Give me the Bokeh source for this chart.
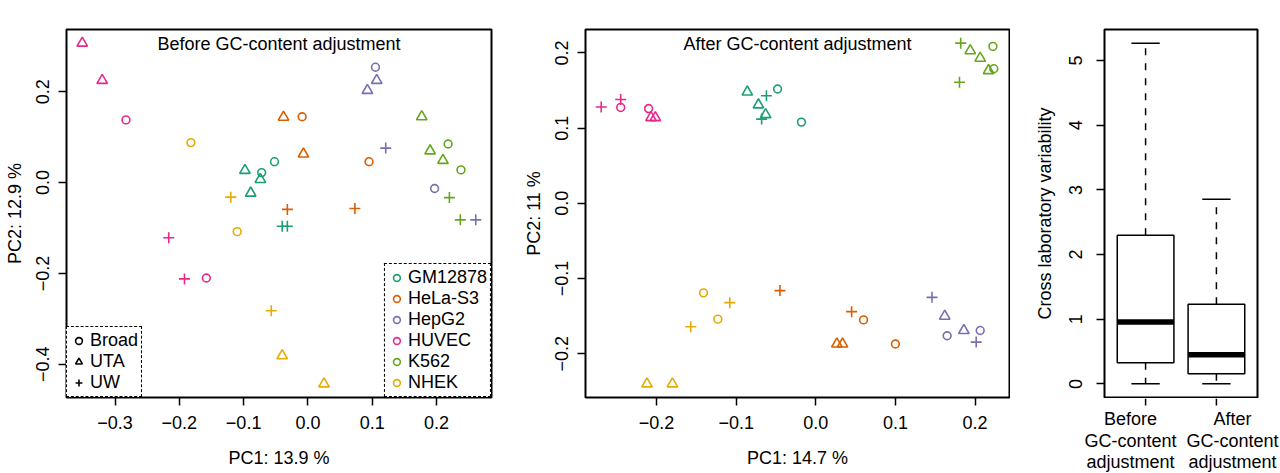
import numpy as np
from bokeh.plotting import figure
from bokeh.models import (Range1d, FixedTicker, Label, Legend, LegendItem,
                          ColumnDataSource, CustomJSTickFormatter)
from bokeh.layouts import row, column
from bokeh.embed import file_html
from bokeh.resources import INLINE

FONT = "Liberation Sans"
FS = "18px"

# Cell lines and sequencing centres
cell_lines = ["GM12878", "HeLa-S3", "HepG2", "HUVEC", "K562", "NHEK"]
cell_colors = ["#1B9E77", "#D95F02", "#7570B3", "#E7298A", "#66A61E", "#E6AB02"]
labs = ["Broad", "UTA", "UW"]
lab_markers = ["circle", "triangle", "cross"]
lab_sizes = [7.8, 10.5, 11]

# PCA before GC-content adjustment
before_cell = (["GM12878"] * 7 + ["HeLa-S3"] * 6 + ["HepG2"] * 6 + ["HUVEC"] * 6
               + ["K562"] * 7 + ["NHEK"] * 6)
before_lab = ["UTA", "Broad", "UTA", "Broad", "UTA", "UW", "UW",
              "UTA", "Broad", "UTA", "UW", "UW", "Broad",
              "Broad", "UTA", "UTA", "UW", "Broad", "UW",
              "UTA", "UTA", "Broad", "UW", "UW", "Broad",
              "UTA", "UTA", "Broad", "UTA", "Broad", "UW", "UW",
              "Broad", "UW", "Broad", "UW", "UTA", "UTA"]
before_pc1 = [-0.098, -0.072, -0.074, -0.052, -0.089, -0.040, -0.032,
              -0.038, -0.009, -0.007, -0.032, 0.073, 0.095,
              0.105, 0.107, 0.0925, 0.121, 0.197, 0.261,
              -0.351, -0.320, -0.283, -0.2165, -0.192, -0.158,
              0.177, 0.190, 0.218, 0.210, 0.238, 0.220, 0.237,
              -0.182, -0.120, -0.110, -0.057, -0.040, 0.025]
before_pc2 = [0.027, 0.022, 0.007, 0.046, -0.023, -0.096, -0.096,
              0.144, 0.145, 0.063, -0.059, -0.057, 0.046,
              0.254, 0.225, 0.203, 0.076, -0.013, -0.082,
              0.307, 0.225, 0.138, -0.1215, -0.212, -0.210,
              0.145, 0.070, 0.085, 0.049, 0.028, -0.033, -0.082,
              0.088, -0.032, -0.108, -0.282, -0.381, -0.443]

# PCA after GC-content adjustment
after_cell = list(before_cell)
after_lab = ["UTA", "UW", "Broad", "UTA", "UTA", "UW", "Broad",
             "UW", "UW", "Broad", "UTA", "UTA", "Broad",
             "UW", "UTA", "Broad", "UTA", "Broad", "UW",
             "UW", "UW", "Broad", "Broad", "UTA", "UTA",
             "UW", "UTA", "Broad", "UTA", "UTA", "Broad", "UW",
             "Broad", "UW", "Broad", "UW", "UTA", "UTA"]
after_pc1 = [-0.086, -0.062, -0.048, -0.072, -0.063, -0.068, -0.018,
             -0.045, 0.045, 0.060, 0.0265, 0.0336, 0.100,
             0.146, 0.162, 0.165, 0.186, 0.2065, 0.2015,
             -0.2695, -0.245, -0.245, -0.210, -0.207, -0.2015,
             0.182, 0.194, 0.2225, 0.2065, 0.217, 0.2236, 0.1805,
             -0.141, -0.108, -0.123, -0.157, -0.212, -0.180]
after_pc2 = [0.148, 0.143, 0.152, 0.131, 0.118, 0.112, 0.108,
             -0.116, -0.144, -0.155, -0.187, -0.187, -0.187,
             -0.125, -0.150, -0.176, -0.169, -0.169, -0.1845,
             0.128, 0.138, 0.1275, 0.126, 0.114, 0.114,
             0.213, 0.203, 0.2086, 0.193, 0.1765, 0.179, 0.161,
             -0.119, -0.132, -0.154, -0.164, -0.240, -0.240]

# Cross laboratory variability summary (boxplot statistics)
box_groups = [["Before", "GC-content", "adjustment"],
              ["After", "GC-content", "adjustment"]]
box_low = [0.0, 0.0]
box_q1 = [0.327, 0.155]
box_median = [0.955, 0.45]
box_q3 = [2.30, 1.23]
box_high = [5.27, 2.855]

FRAME_TOP = 29
FRAME_BOTTOM = 76
FRAME_H = 473 - FRAME_TOP - FRAME_BOTTOM

color_of = dict(zip(cell_lines, cell_colors))
marker_of = dict(zip(labs, lab_markers))
size_of = dict(zip(labs, lab_sizes))

minus_fmt = CustomJSTickFormatter(code="return tick.toFixed(1).replace('-', '\u2212')")


def padded(vals, frac=0.04):
    lo, hi = min(vals), max(vals)
    d = (hi - lo) * frac
    return Range1d(lo - d, hi + d)


def style(p):
    p.background_fill_color = "white"
    p.border_fill_color = "white"
    p.outline_line_color = "black"
    p.outline_line_width = 2
    p.grid.visible = False
    for ax in p.xaxis + p.yaxis:
        ax.axis_line_color = None
        ax.major_tick_out = 8
        ax.major_tick_in = 0
        ax.major_tick_line_width = 1.5
        ax.minor_tick_line_color = None
        ax.major_label_text_font = FONT
        ax.major_label_text_font_size = FS
        ax.major_label_text_color = "black"
        ax.axis_label_text_font = FONT
        ax.axis_label_text_font_size = FS
        ax.axis_label_text_font_style = "normal"
        ax.axis_label_text_color = "black"
    p.yaxis.major_label_orientation = "vertical"
    p.xaxis.major_label_standoff = 10
    p.xaxis.axis_label_standoff = 16
    p.yaxis.major_label_standoff = 9
    p.yaxis.axis_label_standoff = 9


def text_label(p, text, x, y, x_units="screen", y_units="screen", align="left",
               baseline="middle", size=FS, bold=False, x_offset=0):
    p.add_layout(Label(x=x, y=y, x_units=x_units, y_units=y_units, x_offset=x_offset,
                       text=text, text_font=FONT, text_font_size=size,
                       text_font_style="bold" if bold else "normal",
                       text_color="black", text_align=align,
                       text_baseline=baseline))


def panel_letter(p, letter, left):
    text_label(p, letter, -left + 1, FRAME_H + 13.5, size="22px", bold=True)


def pca_panel(letter, heading, cells, lab_list, pc1, pc2, xticks, yticks,
              xlab, ylab, width, left, right, legends):
    p = figure(width=width, height=473, output_backend="svg", toolbar_location=None,
               x_range=padded(pc1), y_range=padded(pc2),
               min_border_left=left, min_border_right=right,
               min_border_top=FRAME_TOP, min_border_bottom=FRAME_BOTTOM)
    style(p)
    p.xaxis.ticker = FixedTicker(ticks=xticks)
    p.yaxis.ticker = FixedTicker(ticks=yticks)
    p.xaxis.formatter = minus_fmt
    p.yaxis.formatter = minus_fmt
    p.xaxis.axis_label = xlab
    p.yaxis.axis_label = ylab

    src = ColumnDataSource(dict(
        x=pc1, y=pc2,
        color=[color_of[c] for c in cells],
        marker=[marker_of[l] for l in lab_list],
        size=[size_of[l] for l in lab_list],
    ))
    p.scatter("x", "y", source=src, marker="marker", size="size",
              line_color="color", fill_color=None, line_width=1.6)

    xr = p.x_range
    text_label(p, heading, (xr.start + xr.end) / 2, FRAME_H - 14,
               x_units="data", align="center")
    panel_letter(p, letter, left)

    if legends:
        blank = dict(x=np.array([np.nan]), y=np.array([np.nan]))
        lab_items = []
        for name, mk in zip(labs, lab_markers):
            r = p.scatter(x="x", y="y", source=ColumnDataSource(blank), marker=mk,
                          line_color="black", fill_color=None, line_width=1.6)
            lab_items.append(LegendItem(label=name, renderers=[r]))
        cell_items = []
        for name, col in zip(cell_lines, cell_colors):
            r = p.scatter(x="x", y="y", source=ColumnDataSource(blank), marker="circle",
                          line_color=col, fill_color=None, line_width=1.6)
            cell_items.append(LegendItem(label=name, renderers=[r]))
        for items, loc in ((lab_items, "bottom_left"), (cell_items, "bottom_right")):
            lg = Legend(items=items, location=loc, margin=0, padding=3, spacing=0,
                        glyph_width=17, glyph_height=17, label_height=17,
                        label_standoff=3,
                        label_text_font=FONT, label_text_font_size=FS,
                        label_text_color="black",
                        border_line_color="black", border_line_dash="10 8",
                        border_line_width=1.6, border_line_alpha=1,
                        background_fill_color="white", background_fill_alpha=1)
            p.add_layout(lg)
    return p


pA = pca_panel("A", "Before GC-content adjustment", before_cell, before_lab,
               before_pc1, before_pc2,
               [-0.3, -0.2, -0.1, 0.0, 0.1, 0.2], [-0.4, -0.2, 0.0, 0.2],
               "PC1: 13.9 %", "PC2: 12.9 %", 500, 66, 9, True)
pB = pca_panel("B", "After GC-content adjustment", after_cell, after_lab,
               after_pc1, after_pc2,
               [-0.2, -0.1, 0.0, 0.1, 0.2], [-0.2, -0.1, 0.0, 0.1, 0.2],
               "PC1: 14.7 %", "PC2: 11 %", 510, 85, 1, False)

# Boxplot panel: the box area, and a strip underneath it for the ticks and
# group names (which are wider than the spacing between the boxes)
C_LEFT, C_RIGHT, C_W = 94, 23, 270
C_TOP_H = FRAME_TOP + FRAME_H + 1
C_STRIP_H = 473 - C_TOP_H
pos = [1, 2]
pC = figure(width=C_W, height=C_TOP_H, output_backend="svg", toolbar_location=None,
            x_range=padded([0.5, 2.5]), y_range=padded(box_low + box_high),
            x_axis_location=None,
            min_border_left=C_LEFT, min_border_right=C_RIGHT,
            min_border_top=FRAME_TOP, min_border_bottom=1)
pC.frame_align = False
style(pC)
pC.yaxis.ticker = FixedTicker(ticks=[0, 1, 2, 3, 4, 5])
pC.yaxis.axis_label = "Cross laboratory variability"
pC.yaxis.major_label_standoff = 14
pC.yaxis.axis_label_standoff = 12

bsrc = ColumnDataSource(dict(
    x=pos, low=box_low, q1=box_q1, med=box_median, q3=box_q3, high=box_high,
    left=[v - 0.4 for v in pos], right=[v + 0.4 for v in pos],
    cl=[v - 0.2 for v in pos], cr=[v + 0.2 for v in pos],
))
pC.segment(x0="x", y0="q3", x1="x", y1="high", source=bsrc,
           line_color="black", line_width=1.5, line_dash="7 8")
pC.segment(x0="x", y0="q1", x1="x", y1="low", source=bsrc,
           line_color="black", line_width=1.5, line_dash="7 8")
pC.segment(x0="cl", y0="high", x1="cr", y1="high", source=bsrc,
           line_color="black", line_width=1.5)
pC.segment(x0="cl", y0="low", x1="cr", y1="low", source=bsrc,
           line_color="black", line_width=1.5)
pC.quad(left="left", right="right", bottom="q1", top="q3", source=bsrc,
        fill_color="white", line_color="black", line_width=1.5)
pC.segment(x0="left", y0="med", x1="right", y1="med", source=bsrc,
           line_color="black", line_width=5.5)
panel_letter(pC, "C", C_LEFT)

# strip below: same horizontal scale as the box area, spanning the full width
xr = pC.x_range
per_px = (xr.end - xr.start) / (C_W - C_LEFT - C_RIGHT)
strip = figure(width=C_W, height=C_STRIP_H, output_backend="svg", toolbar_location=None,
               x_range=Range1d(xr.start - C_LEFT * per_px, xr.end + C_RIGHT * per_px),
               y_range=Range1d(-C_STRIP_H, 0),
               x_axis_location=None, y_axis_location=None,
               min_border_left=0, min_border_right=0,
               min_border_top=0, min_border_bottom=0)
strip.frame_align = False
strip.outline_line_color = None
strip.grid.visible = False
strip.background_fill_color = "white"
strip.border_fill_color = "white"
tsrc = ColumnDataSource(dict(x=pos, top=[0, 0], bottom=[-7, -7]))
strip.segment(x0="x", y0="top", x1="x", y1="bottom", source=tsrc,
              line_color="black", line_width=1.5)
for xpos, lines, nudge in zip(pos, box_groups, [-15, 16]):
    for k, line in enumerate(lines):
        text_label(strip, line, xpos, -20.5 - 21.5 * k, x_units="data", y_units="data",
                   align="center", baseline="alphabetic", x_offset=nudge)

layout = row(pA, pB, column(pC, strip, spacing=0), spacing=0)
open("out.html", "w").write(file_html(layout, INLINE))
